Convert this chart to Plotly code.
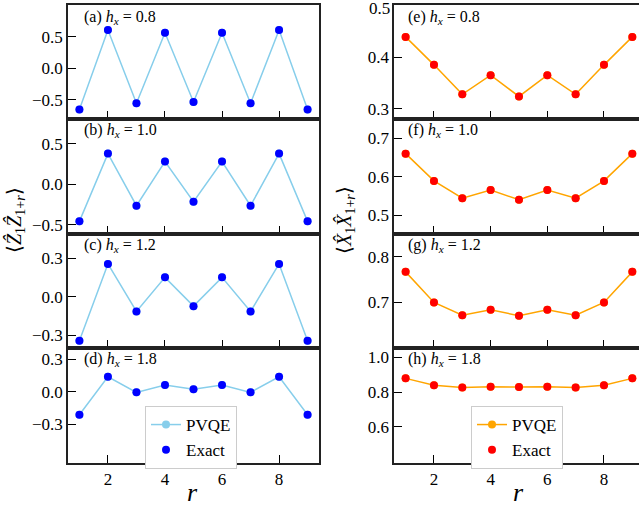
import plotly.graph_objects as go

# ---------------- data ----------------
r = [1, 2, 3, 4, 5, 6, 7, 8, 9]
hx_labels = ["0.8", "1.0", "1.2", "1.8"]

zz_pvqe_08 = [-0.656, 0.603, -0.556, 0.561, -0.535, 0.561, -0.556, 0.603, -0.656]
zz_pvqe_10 = [-0.460, 0.376, -0.267, 0.278, -0.218, 0.278, -0.267, 0.376, -0.460]
zz_pvqe_12 = [-0.343, 0.257, -0.115, 0.152, -0.073, 0.152, -0.115, 0.257, -0.343]
zz_pvqe_18 = [-0.212, 0.138, -0.006, 0.062, 0.022, 0.062, -0.006, 0.138, -0.212]
zz_exact_08 = [-0.656, 0.603, -0.556, 0.561, -0.535, 0.561, -0.556, 0.603, -0.656]
zz_exact_10 = [-0.460, 0.376, -0.267, 0.278, -0.218, 0.278, -0.267, 0.376, -0.460]
zz_exact_12 = [-0.343, 0.257, -0.115, 0.152, -0.073, 0.152, -0.115, 0.257, -0.343]
zz_exact_18 = [-0.212, 0.138, -0.006, 0.062, 0.022, 0.062, -0.006, 0.138, -0.212]

xx_pvqe_08 = [0.439, 0.385, 0.328, 0.365, 0.324, 0.365, 0.328, 0.385, 0.439]
xx_pvqe_10 = [0.660, 0.589, 0.544, 0.565, 0.540, 0.565, 0.544, 0.589, 0.660]
xx_pvqe_12 = [0.767, 0.700, 0.672, 0.684, 0.671, 0.684, 0.672, 0.700, 0.767]
xx_pvqe_18 = [0.879, 0.840, 0.827, 0.831, 0.829, 0.831, 0.827, 0.840, 0.879]
xx_exact_08 = [0.439, 0.385, 0.328, 0.365, 0.324, 0.365, 0.328, 0.385, 0.439]
xx_exact_10 = [0.660, 0.589, 0.544, 0.565, 0.540, 0.565, 0.544, 0.589, 0.660]
xx_exact_12 = [0.767, 0.700, 0.672, 0.684, 0.671, 0.684, 0.672, 0.700, 0.767]
xx_exact_18 = [0.879, 0.840, 0.827, 0.831, 0.829, 0.831, 0.827, 0.840, 0.879]

x_ticks = [2, 4, 6, 8]
zz_yticks = [[-0.5, 0.0, 0.5], [-0.5, 0.0, 0.5], [-0.3, 0.0, 0.3], [-0.3, 0.0, 0.3]]
xx_yticks = [[0.3, 0.4, 0.5], [0.5, 0.6, 0.7], [0.7, 0.8], [0.6, 0.8, 1.0]]

# ---------------- styling / layout ----------------
W, H = 639, 508
FONT = "'Liberation Serif', 'Times New Roman', serif"
zz_ranges = [[-0.80, 1.00], [-0.61, 0.807], [-0.398, 0.495], [-0.655, 0.406]]
xx_ranges = [[0.281, 0.5006], [0.452, 0.751], [0.601, 0.851], [0.395, 1.055]]
rows_px = [(5, 118.7), (118.7, 233.5), (233.5, 347.7), (347.7, 462.7)]
left_dom = [68 / W, 319 / W]
right_dom = [394.3 / W, 1.0]

zz_pvqe = [zz_pvqe_08, zz_pvqe_10, zz_pvqe_12, zz_pvqe_18]
zz_exact = [zz_exact_08, zz_exact_10, zz_exact_12, zz_exact_18]
xx_pvqe = [xx_pvqe_08, xx_pvqe_10, xx_pvqe_12, xx_pvqe_18]
xx_exact = [xx_exact_08, xx_exact_10, xx_exact_12, xx_exact_18]


def fmt(v):
    s = f"{v:.1f}"
    return s.replace("-", "\u2212")


fig = go.Figure()
layout = {}
annotations = []
letters_l = "abcd"
letters_r = "efgh"
TICKSIZE = 17

for col in range(2):
    for i in range(4):
        idx = i + 1 + 4 * col
        xa = "x" if idx == 1 else f"x{idx}"
        ya = "y" if idx == 1 else f"y{idx}"
        if col == 0:
            pv, ex = zz_pvqe[i], zz_exact[i]
            lc, mc = "#87CEEB", "#0000FF"
            yr, yt = zz_ranges[i], zz_yticks[i]
            dom = left_dom
            xr = [0.6, 9.4]
            leg = "legend"
        else:
            pv, ex = xx_pvqe[i], xx_exact[i]
            lc, mc = "#FFA500", "#FF0000"
            yr, yt = xx_ranges[i], xx_yticks[i]
            dom = right_dom
            xr = [0.6, 9.236]
            leg = "legend2"
        show = (i == 3)
        fig.add_trace(go.Scatter(
            x=r, y=pv, mode="lines+markers", name="PVQE",
            line=dict(color=lc, width=1.5), marker=dict(color=lc, size=8),
            xaxis=xa, yaxis=ya, showlegend=show, legend=leg))
        fig.add_trace(go.Scatter(
            x=r, y=ex, mode="markers", name="Exact",
            marker=dict(color=mc, size=8),
            xaxis=xa, yaxis=ya, showlegend=show, legend=leg))
        top, bot = rows_px[i]
        xkey = "xaxis" if idx == 1 else f"xaxis{idx}"
        ykey = "yaxis" if idx == 1 else f"yaxis{idx}"
        layout[xkey] = dict(
            domain=dom, range=xr, anchor=ya,
            tickvals=x_ticks, ticktext=[str(t) for t in x_ticks],
            showticklabels=(i == 3), ticks="inside", ticklen=8, tickwidth=1.3,
            tickcolor="black", showline=True, linecolor="#222", linewidth=1.6,
            mirror=True, showgrid=False, zeroline=False,
            tickfont=dict(family=FONT, size=TICKSIZE, color="black"))
        layout[ykey] = dict(
            domain=[1 - bot / H, 1 - top / H], range=yr, anchor=xa,
            tickvals=yt, ticktext=[fmt(v) for v in yt],
            ticks="inside", ticklen=8, tickwidth=1.3, tickcolor="black",
            showline=True, linecolor="#222", linewidth=1.6,
            mirror=(col == 0), showgrid=False, zeroline=False,
            tickfont=dict(family=FONT, size=TICKSIZE, color="black"))
        letter = letters_l[i] if col == 0 else letters_r[i]
        ax_px = 82 if col == 0 else 406
        annotations.append(dict(
            xref="paper", yref="paper", x=ax_px / W, y=1 - (top + 12) / H,
            xanchor="left", yanchor="middle", showarrow=False,
            text=f"({letter}) <i>h<sub>x</sub></i> = {hx_labels[i]}",
            font=dict(family=FONT, size=16, color="black")))

# top tick label of panel (e), which sits on the edge of the plot area
annotations.append(dict(
    xref="x5 domain", yref="y5", x=0, y=xx_yticks[0][-1], xanchor="right",
    yanchor="middle", xshift=-2, yshift=-3, showarrow=False,
    text=fmt(xx_yticks[0][-1]),
    font=dict(family=FONT, size=TICKSIZE, color="black")))

annotations += [
    dict(xref="paper", yref="paper", x=15 / W, y=1 - 220 / H, textangle=-90,
         showarrow=False, xanchor="center", yanchor="middle",
         text="\u27e8<i>\u1e90</i><sub>1</sub><i>\u1e90</i><sub>1+<i>r</i></sub>\u27e9",
         font=dict(family=FONT, size=20, color="black")),
    dict(xref="paper", yref="paper", x=345 / W, y=1 - 220 / H, textangle=-90,
         showarrow=False, xanchor="center", yanchor="middle",
         text="\u27e8<i>X\u0302</i><sub>1</sub><i>X\u0302</i><sub>1+<i>r</i></sub>\u27e9",
         font=dict(family=FONT, size=20, color="black")),
    dict(xref="paper", yref="paper", x=192 / W, y=1 - 492 / H, showarrow=False,
         xanchor="center", yanchor="middle", text="<i>r</i>",
         font=dict(family=FONT, size=26, color="black")),
    dict(xref="paper", yref="paper", x=518 / W, y=1 - 492 / H, showarrow=False,
         xanchor="center", yanchor="middle", text="<i>r</i>",
         font=dict(family=FONT, size=26, color="black")),
]

legend_style = dict(bgcolor="white", bordercolor="#CCCCCC", borderwidth=1,
                    font=dict(family=FONT, size=17, color="black"),
                    xanchor="left", yanchor="top", tracegroupgap=0,
                    itemwidth=30)

fig.update_layout(
    width=W, height=H, margin=dict(l=0, r=0, t=0, b=0),
    paper_bgcolor="white", plot_bgcolor="white",
    font=dict(family=FONT, size=16, color="black"),
    annotations=annotations,
    legend=dict(x=145 / W, y=1 - 406 / H, **legend_style),
    legend2=dict(x=471 / W, y=1 - 406 / H, **legend_style),
    **layout,
)

fig.write_html("out.html")
